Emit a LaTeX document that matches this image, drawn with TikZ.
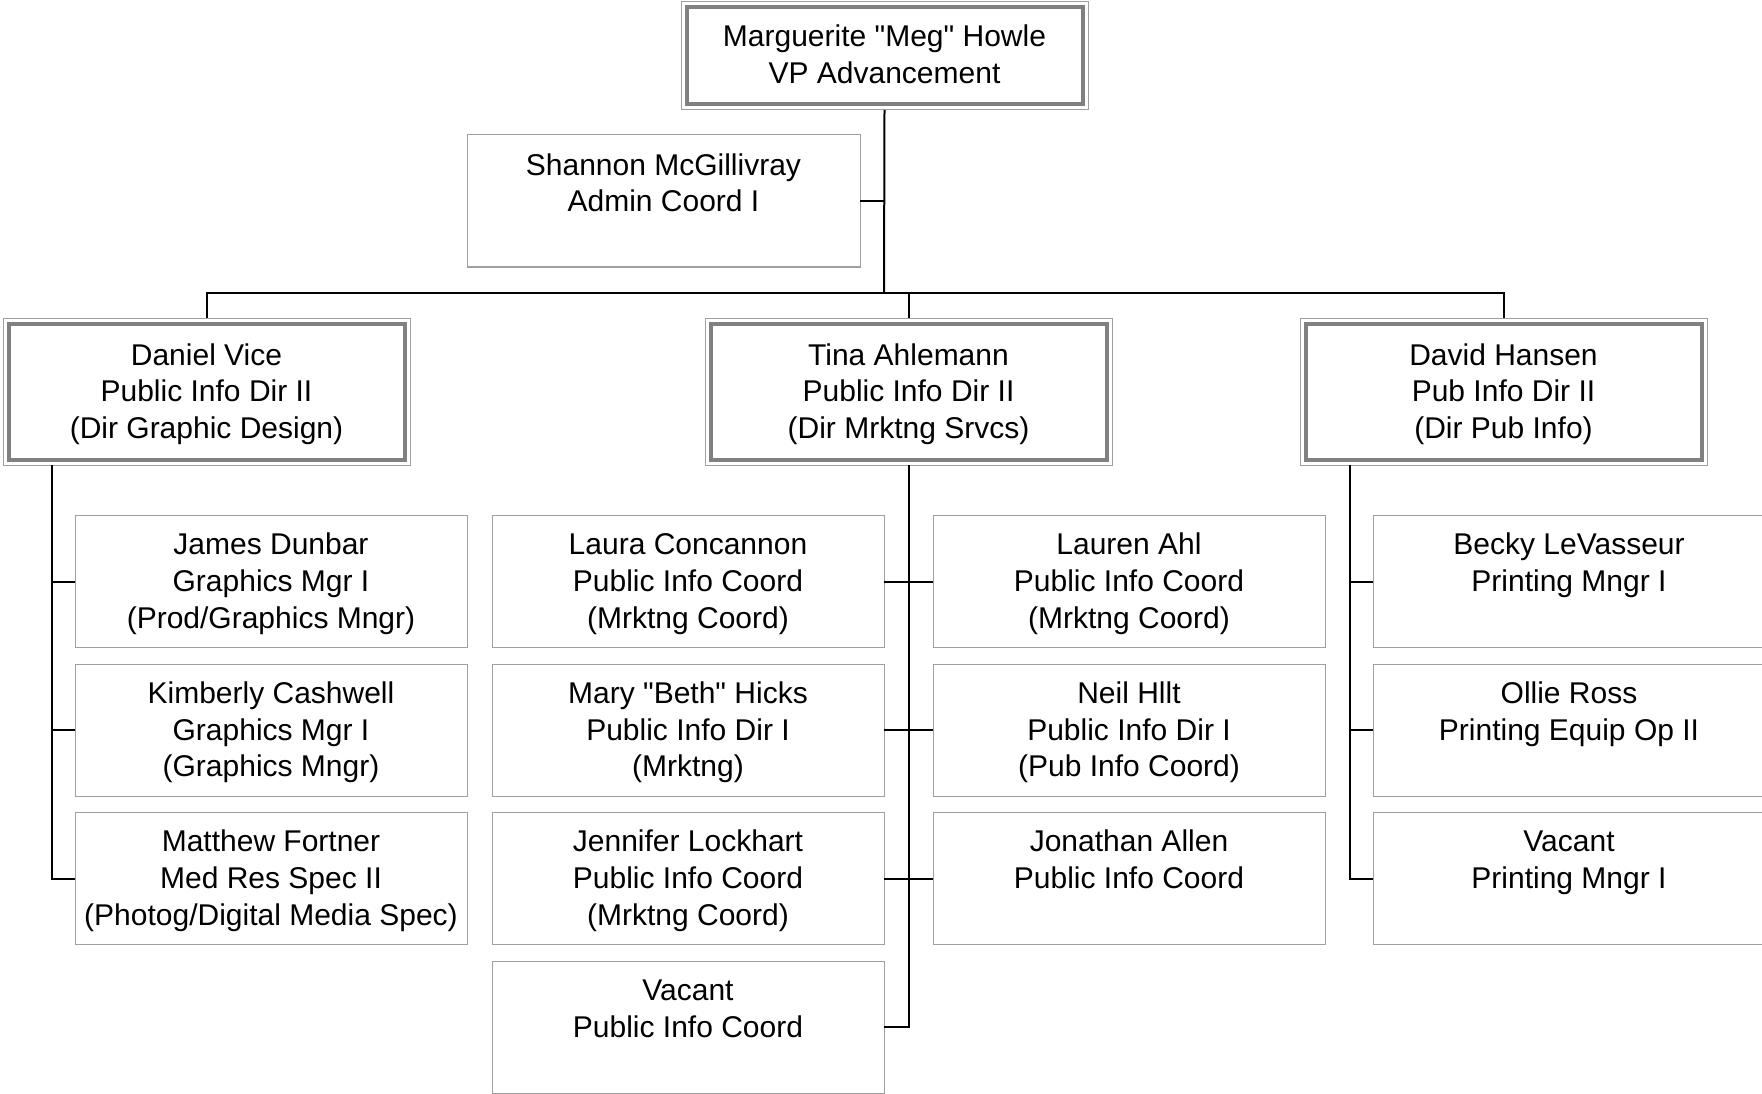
\documentclass[tikz,border=0pt]{standalone}
\usepackage{fontspec}
\setmainfont{Liberation Sans}
\newfontfamily\plainqfont{Liberation Sans}
\definecolor{thingray}{HTML}{A0A0A0}
\definecolor{thickgray}{HTML}{808080}
\tikzset{
  box/.style={draw=thingray, line width=1pt, fill=white, rectangle, anchor=north west, inner sep=0pt, outer sep=0pt},
  lvthree/.style={box, minimum width=392pt, minimum height=132pt},
  lvtwo/.style={box, minimum width=407pt, minimum height=147pt},
  conn/.style={draw=black, line width=2pt},
  txt/.style={anchor=north, inner sep=0pt, align=center, text=black, font=\fontsize{30}{36.7}\selectfont},
}
\newcommand{\innerframe}[1]{\draw[thickgray, line width=4pt] ([shift={(5.5,5.5)}]#1.north west) rectangle ([shift={(-5.5,-5.5)}]#1.south east);}
\newcommand{\sq}{{\plainqfont"}}
\begin{document}
\begin{tikzpicture}[x=1pt, y=-1pt]
\useasboundingbox[fill=white] (0,0) rectangle (1762,1094);
% coordinates
\coordinate (bus) at (884,293);
\coordinate (dv) at (52,465);
\coordinate (hv) at (1350,465);
% top
\node[box, minimum width=407pt, minimum height=108pt] (meg) at (681,2) {};
\node[box, minimum width=393pt, minimum height=132pt] (shannon) at (467,135) {};
% level 2
\node[lvtwo] (daniel) at (3,318) {};
\node[lvtwo] (tina) at (705,318) {};
\node[lvtwo] (david) at (1300,318) {};
% level 3
\node[lvthree] (a1) at (75,515.5) {};
\node[lvthree] (a2) at (75,664) {};
\node[lvthree] (a3) at (75,812.5) {};
\node[lvthree] (b1) at (492,515.5) {};
\node[lvthree] (b2) at (492,664) {};
\node[lvthree] (b3) at (492,812.5) {};
\node[lvthree] (b4) at (492,961) {};
\node[lvthree] (c1) at (933,515.5) {};
\node[lvthree] (c2) at (933,664) {};
\node[lvthree] (c3) at (933,812.5) {};
\node[lvthree] (d1) at (1373,515.5) {};
\node[lvthree] (d2) at (1373,664) {};
\node[lvthree] (d3) at (1373,812.5) {};
% double frames
\innerframe{meg}
\innerframe{daniel}
\innerframe{tina}
\innerframe{david}
% connectors
\draw[conn] (meg.south) -- (bus);
\draw[conn] (shannon.east) -- (shannon.east -| meg.south);
\draw[conn] (daniel.north) -- (daniel.north |- bus) -- (david.north |- bus) -- (david.north);
\draw[conn] (tina.north) -- (tina.north |- bus);
\draw[conn] (dv) |- (a3.west);
\draw[conn] (a1.west) -- (a1.west -| dv);
\draw[conn] (a2.west) -- (a2.west -| dv);
\draw[conn] (tina.south) |- (b4.east);
\draw[conn] (b1.east) -- (c1.west);
\draw[conn] (b2.east) -- (c2.west);
\draw[conn] (b3.east) -- (c3.west);
\draw[conn] (hv) |- (d3.west);
\draw[conn] (d1.west) -- (d1.west -| hv);
\draw[conn] (d2.west) -- (d2.west -| hv);
% texts
\node[txt, yshift=-19pt] (tmeg) at (meg.north) {\strut Marguerite \sq Meg\sq{} Howle\\VP Advancement};
\node[txt, yshift=-14.3pt] (tshannon) at (shannon.north) {\strut Shannon McGillivray\\Admin Coord I};
\node[txt, yshift=-21.3pt] (tdaniel) at (daniel.north) {\strut Daniel Vice\\Public Info Dir II\\(Dir Graphic Design)};
\node[txt, yshift=-21.3pt] (ttina) at (tina.north) {\strut Tina Ahlemann\\Public Info Dir II\\(Dir Mrktng Srvcs)};
\node[txt, yshift=-21.3pt] (tdavid) at (david.north) {\strut David Hansen\\Pub Info Dir II\\(Dir Pub Info)};
\node[txt, yshift=-13.6pt] (ta1) at (a1.north) {\strut James Dunbar\\Graphics Mgr I\\(Prod/Graphics Mngr)};
\node[txt, yshift=-13.6pt] (ta2) at (a2.north) {\strut Kimberly Cashwell\\Graphics Mgr I\\(Graphics Mngr)};
\node[txt, yshift=-13.6pt] (ta3) at (a3.north) {\strut Matthew Fortner\\Med Res Spec II\\(Photog/Digital Media Spec)};
\node[txt, yshift=-13.6pt] (tb1) at (b1.north) {\strut Laura Concannon\\Public Info Coord\\(Mrktng Coord)};
\node[txt, yshift=-13.6pt] (tb2) at (b2.north) {\strut Mary \sq Beth\sq{} Hicks\\Public Info Dir I\\(Mrktng)};
\node[txt, yshift=-13.6pt] (tb3) at (b3.north) {\strut Jennifer Lockhart\\Public Info Coord\\(Mrktng Coord)};
\node[txt, yshift=-13.6pt] (tb4) at (b4.north) {\strut Vacant\\Public Info Coord};
\node[txt, yshift=-13.6pt] (tc1) at (c1.north) {\strut Lauren Ahl\\Public Info Coord\\(Mrktng Coord)};
\node[txt, yshift=-13.6pt] (tc2) at (c2.north) {\strut Neil Hllt\\Public Info Dir I\\(Pub Info Coord)};
\node[txt, yshift=-13.6pt] (tc3) at (c3.north) {\strut Jonathan Allen\\Public Info Coord};
\node[txt, yshift=-13.6pt] (td1) at (d1.north) {\strut Becky LeVasseur\\Printing Mngr I};
\node[txt, yshift=-13.6pt] (td2) at (d2.north) {\strut Ollie Ross\\Printing Equip Op II};
\node[txt, yshift=-13.6pt] (td3) at (d3.north) {\strut Vacant\\Printing Mngr I};
\end{tikzpicture}
\end{document}
